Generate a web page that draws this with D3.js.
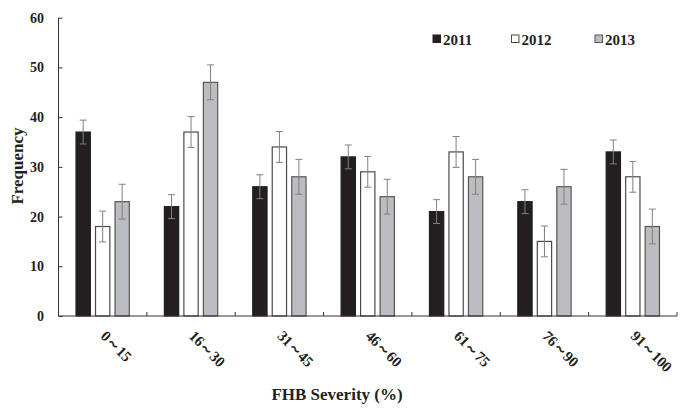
<!DOCTYPE html>
<html>
<head>
<meta charset="utf-8">
<script src="https://cdn.jsdelivr.net/npm/d3@7/dist/d3.min.js"></script>
<style>
  html, body { margin: 0; padding: 0; background: #fff; }
  svg { display: block; }
  text { font-family: "Liberation Serif", "Times New Roman", serif; font-weight: bold; fill: #231f20; }
</style>
</head>
<body>
<svg id="chart" width="690" height="415"></svg>
<script>
const categories = ["0～15", "16～30", "31～45", "46～60", "61～75", "76～90", "91～100"];
const seriesNames = ["2011", "2012", "2013"];
const values2011 = [37, 22, 26, 32, 21, 23, 33];
const values2012 = [18, 37, 34, 29, 33, 15, 28];
const values2013 = [23, 47, 28, 24, 28, 26, 18];
const errors2011 = [2.4, 2.4, 2.4, 2.4, 2.4, 2.4, 2.4];
const errors2012 = [3.1, 3.1, 3.1, 3.1, 3.1, 3.1, 3.1];
const errors2013 = [3.5, 3.5, 3.5, 3.5, 3.5, 3.5, 3.5];
const yTicks = [0, 10, 20, 30, 40, 50, 60];

const seriesValues = [values2011, values2012, values2013];
const seriesErrors = [errors2011, errors2012, errors2013];
const fills = ["#231f20", "#ffffff", "#bcbdc0"];
const strokes = ["#231f20", "#4a4a4a", "#555555"];

const svg = d3.select("#chart");
const mLeft = 58.5, mRight = 677, mTop = 17.7, mBottom = 316;

const x = d3.scaleBand().domain(categories).range([mLeft, mRight]).padding(0);
const groupW = 54.5;
const xi = d3.scaleBand().domain(seriesNames).range([0, groupW]).paddingInner(4 / 19.5).paddingOuter(0);
const y = d3.scaleLinear().domain([0, 60]).range([mBottom, mTop]);

const rows = [];
categories.forEach((c, i) => {
  seriesNames.forEach((s, j) => {
    rows.push({ c, s, j, v: seriesValues[j][i], e: seriesErrors[j][i] });
  });
});

const gx = c => x(c) + x.bandwidth() / 2 - groupW / 2;

// bars
svg.append("g").selectAll("rect").data(rows).join("rect")
  .attr("x", d => gx(d.c) + xi(d.s) + 0.6)
  .attr("y", d => y(d.v))
  .attr("width", xi.bandwidth() - 1.2)
  .attr("height", d => y(0) - y(d.v))
  .attr("fill", d => fills[d.j])
  .attr("stroke", d => strokes[d.j])
  .attr("stroke-width", 1.2);

// error bars
const eg = svg.append("g").attr("stroke", "#808080").attr("stroke-width", 1).attr("fill", "none");
rows.forEach(d => {
  const cx = gx(d.c) + xi(d.s) + xi.bandwidth() / 2;
  eg.append("line").attr("x1", cx).attr("x2", cx).attr("y1", y(d.v + d.e)).attr("y2", y(d.v - d.e));
  eg.append("line").attr("x1", cx - 3.5).attr("x2", cx + 3.5).attr("y1", y(d.v + d.e)).attr("y2", y(d.v + d.e));
  eg.append("line").attr("x1", cx - 3.5).attr("x2", cx + 3.5).attr("y1", y(d.v - d.e)).attr("y2", y(d.v - d.e));
});

// y axis
const yAxis = d3.axisRight(y).tickValues(yTicks).tickSize(4).tickFormat("");
const ya = svg.append("g").attr("transform", `translate(${mLeft},0)`).call(yAxis);
ya.select(".domain").attr("stroke", "#333").attr("d", `M0,${mTop}V${mBottom}`);
ya.selectAll(".tick line").attr("stroke", "#333");
svg.append("g").selectAll("text").data(yTicks).join("text")
  .attr("x", 44).attr("y", d => y(d) + 5)
  .attr("text-anchor", "end").attr("font-size", 14).text(d => d);

// x axis
const xa = svg.append("g").attr("transform", `translate(0,${mBottom})`);
xa.append("line").attr("x1", mLeft).attr("x2", mRight).attr("y1", 0).attr("y2", 0).attr("stroke", "#333");
const bounds = categories.map(c => x(c) + x.bandwidth());
xa.selectAll("line.tk").data(bounds).join("line").attr("class", "tk")
  .attr("x1", d => d).attr("x2", d => d).attr("y1", 0).attr("y2", -4).attr("stroke", "#333");

// x labels
svg.append("g").selectAll("text").data(categories).join("text")
  .attr("transform", d => `translate(${x(d) + x.bandwidth() / 2 - 3},337) rotate(45)`)
  .attr("font-size", 15).attr("letter-spacing", -0.3).text(d => d);

// titles
svg.append("text").attr("transform", "translate(23,166) rotate(-90)")
  .attr("text-anchor", "middle").attr("font-size", 17).text("Frequency");
svg.append("text").attr("x", 337).attr("y", 400).attr("text-anchor", "middle")
  .attr("font-size", 17).text("FHB Severity (%)");

// legend
const legX = [433, 511.5, 595];
const lg = svg.append("g").selectAll("g").data(seriesNames).join("g")
  .attr("transform", (d, i) => `translate(${legX[i]},39)`);
lg.append("rect").attr("x", 0).attr("y", -4).attr("width", 7.5).attr("height", 7.5)
  .attr("fill", (d, i) => fills[i]).attr("stroke", (d, i) => strokes[i]).attr("stroke-width", 1);
lg.append("text").attr("x", 10).attr("y", 5.5).attr("font-size", 15).text(d => d);
</script>
</body>
</html>
